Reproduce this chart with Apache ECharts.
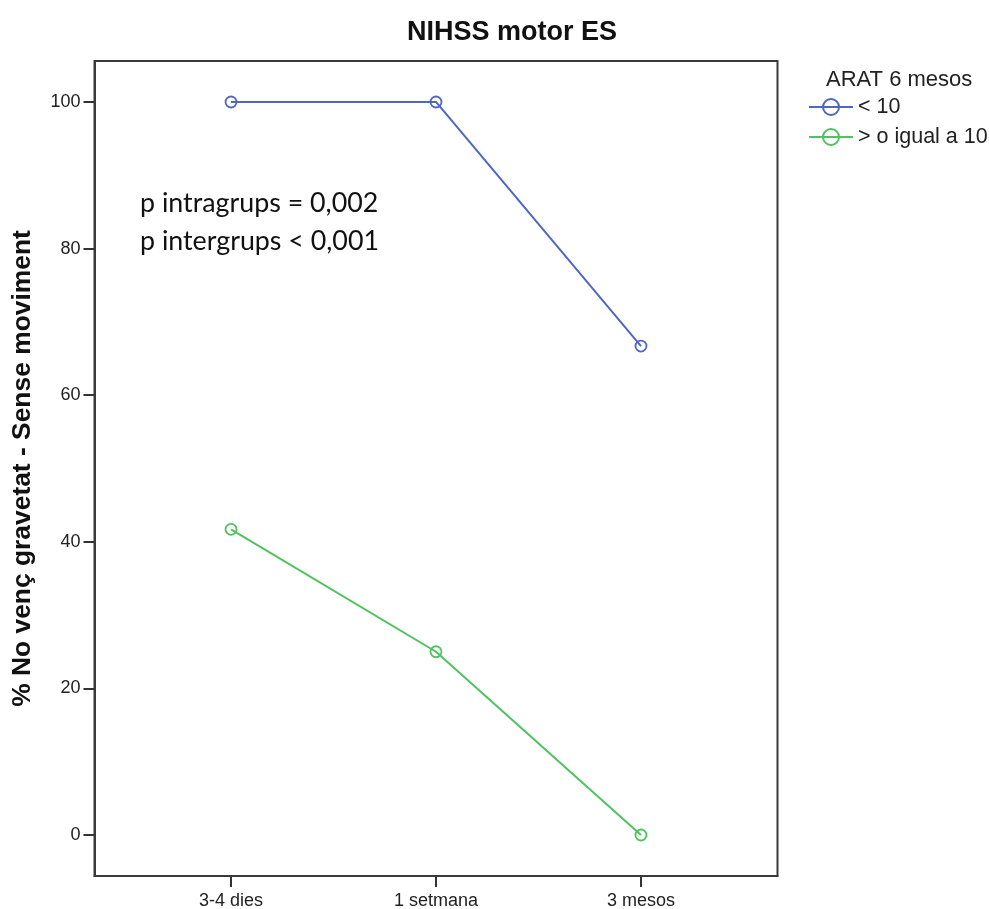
<!DOCTYPE html>
<html>
<head>
<meta charset="utf-8">
<script src="https://cdn.jsdelivr.net/npm/echarts@6/dist/echarts.min.js"></script>
<style>
  html, body { margin: 0; padding: 0; background: #ffffff; }
  #chart { width: 989px; height: 909px; }
</style>
</head>
<body>
<div id="chart"></div>
<script>
// Time points of the follow-up
const categories = ['3-4 dies', '1 setmana', '3 mesos'];

// % of patients with no movement against gravity, by ARAT group at 6 months
const seriesNames = ['< 10', '> o igual a 10'];
const lowArat = [100, 100, 66.7];
const highArat = [41.7, 25, 0];

// Y axis ticks
const yTicks = [0, 20, 40, 60, 80, 100];

const colors = ['#4f66c4', '#4fc35e'];

const chart = echarts.init(document.getElementById('chart'));

const font = 'Liberation Sans, Arial, sans-serif';

// category positions on a numeric x scale, padded on both sides
const catIndex = categories.map((c, i) => i);

function lineSeries(name, values, color) {
  return {
    name: name,
    type: 'line',
    data: values.map((v, i) => [catIndex[i], v]),
    symbol: 'circle',
    symbolSize: 11,
    showSymbol: true,
    lineStyle: { color: color, width: 2 },
    itemStyle: { color: 'rgba(255,255,255,0)', borderColor: color, borderWidth: 1.8 },
    emphasis: { disabled: true },
    z: 3
  };
}

chart.setOption({
  animation: false,
  backgroundColor: '#ffffff',
  title: [
    {
      text: 'NIHSS motor ES',
      left: 507,
      top: 14,
      textAlign: 'center',
      textStyle: { fontFamily: font, fontWeight: 'bold', fontSize: 27, color: '#111' }
    },
    {
      text: 'ARAT 6 mesos',
      left: 821,
      top: 64,
      textStyle: { fontFamily: font, fontWeight: 'normal', fontSize: 22, color: '#222' }
    }
  ],
  legend: {
    data: seriesNames,
    orient: 'vertical',
    left: 808,
    top: 96,
    padding: 0,
    itemWidth: 44,
    itemHeight: 20,
    itemGap: 8,
    textStyle: { fontFamily: font, fontSize: 21.5, color: '#222', lineHeight: 20 }
  },
  grid: {
    left: 94.5,
    right: 211.5,
    top: 61,
    bottom: 33,
    containLabel: false,
    outerBoundsMode: 'none'
  },
  xAxis: {
    type: 'value',
    min: -0.666,
    max: 2.666,
    axisLine: { show: true, onZero: false, lineStyle: { color: '#3a3a3a', width: 2 } },
    axisTick: { show: true, customValues: catIndex, length: 11, lineStyle: { color: '#333', width: 2 } },
    axisLabel: {
      customValues: catIndex,
      margin: 16,
      fontFamily: font,
      fontSize: 18,
      color: '#222',
      formatter: (v) => categories[Math.round(v)]
    },
    splitLine: { show: false }
  },
  yAxis: {
    type: 'value',
    min: -5.59,
    max: 105.59,
    name: '% No venç gravetat - Sense moviment',
    nameLocation: 'middle',
    nameGap: 59,
    nameTextStyle: { fontFamily: font, fontWeight: 'bold', fontSize: 26.4, color: '#111' },
    axisLine: { show: true, onZero: false, lineStyle: { color: '#3a3a3a', width: 2 } },
    axisTick: { show: true, customValues: yTicks, length: 11, lineStyle: { color: '#333', width: 2 } },
    axisLabel: { customValues: yTicks, margin: 14, fontFamily: font, fontSize: 18, color: '#222' },
    splitLine: { show: false }
  },
  series: [
    lineSeries(seriesNames[0], lowArat, colors[0]),
    lineSeries(seriesNames[1], highArat, colors[1])
  ],
  graphic: [
    {
      type: 'rect',
      shape: { x: 94.5, y: 61, width: 683, height: 815 },
      style: { fill: 'none', stroke: '#3a3a3a', lineWidth: 2 },
      z: 10
    },
    {
      type: 'text',
      x: 140,
      y: 203,
      style: {
        text: 'p intragrups = 0,002',
        fontFamily: 'Lato, sans-serif',
        fontSize: 26.8,
        fill: '#111',
        verticalAlign: 'middle'
      },
      z: 10
    },
    {
      type: 'text',
      x: 140,
      y: 241,
      style: {
        text: 'p intergrups < 0,001',
        fontFamily: 'Lato, sans-serif',
        fontSize: 26.8,
        fill: '#111',
        verticalAlign: 'middle'
      },
      z: 10
    }
  ]
});
</script>
</body>
</html>
